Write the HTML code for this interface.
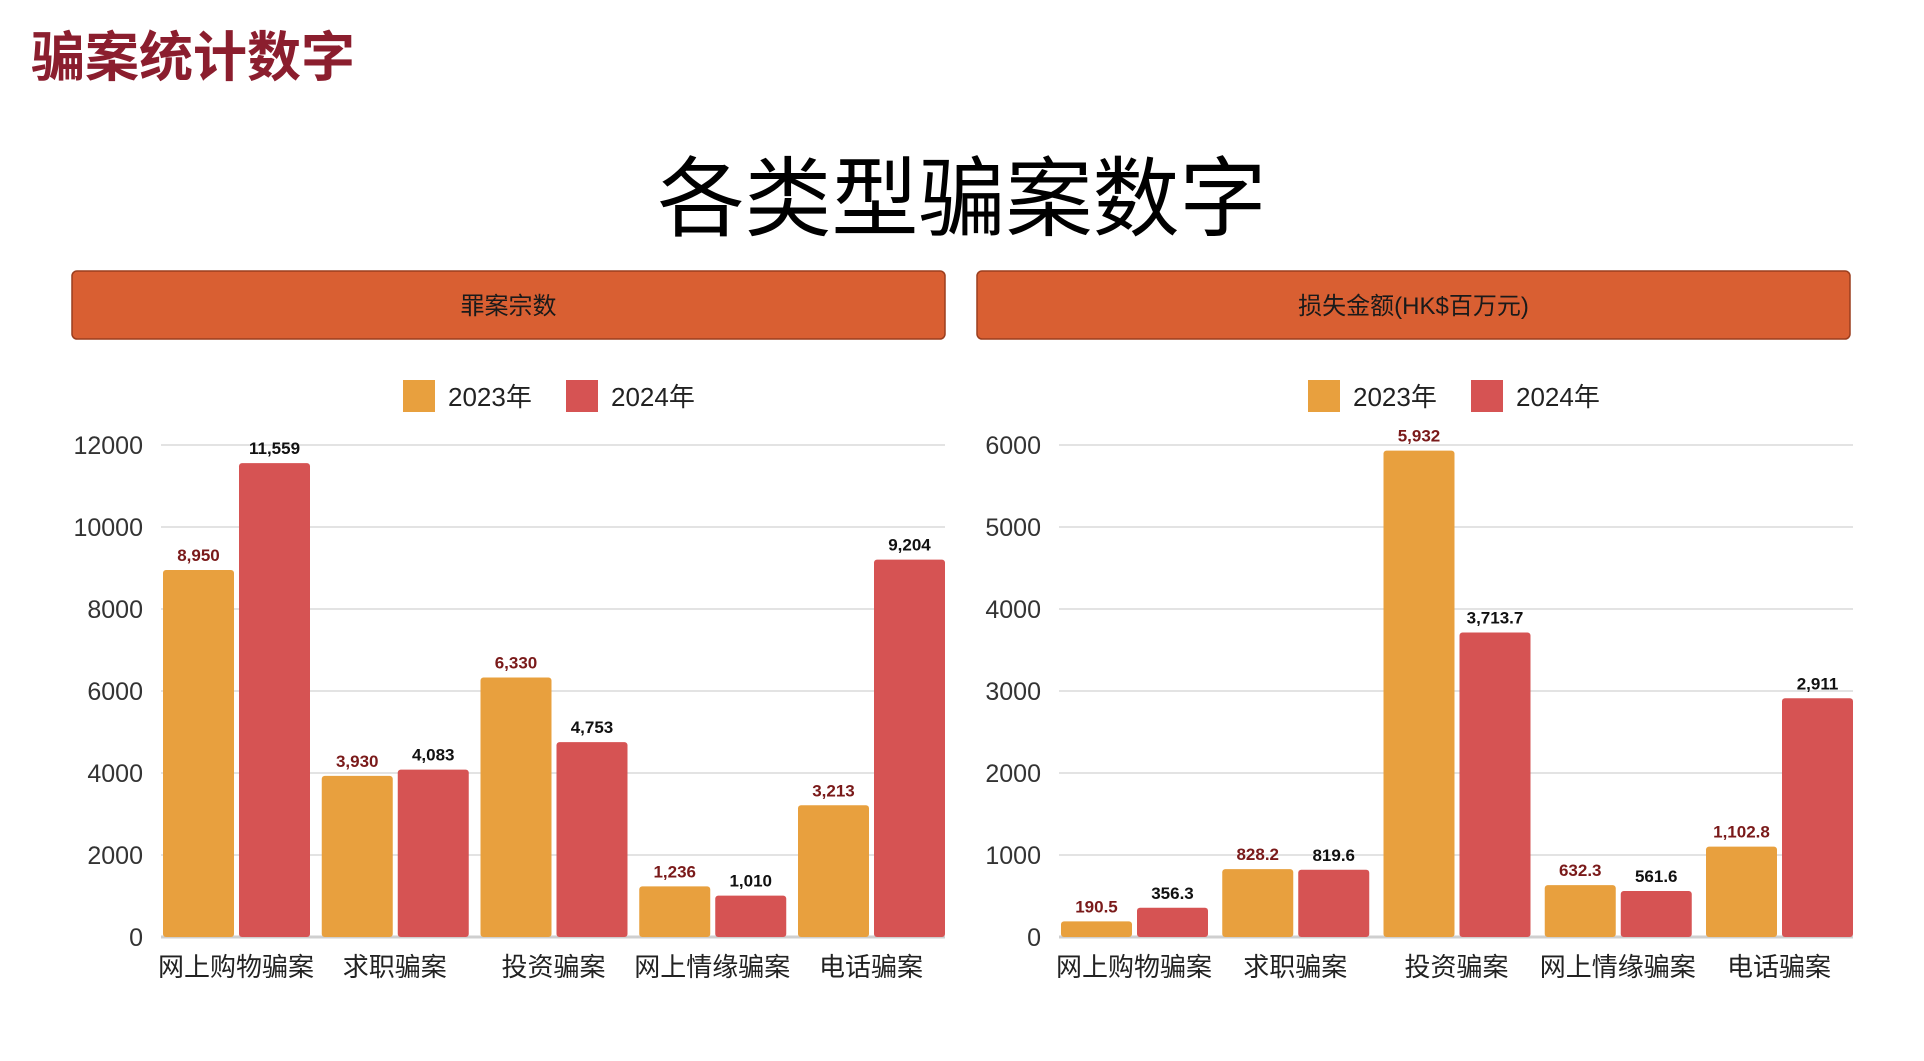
<!DOCTYPE html>
<html><head><meta charset="utf-8"><style>
body{margin:0;background:#fff;width:1924px;height:1056px;overflow:hidden;font-family:"Liberation Sans","Noto Sans CJK SC",sans-serif}
</style></head><body>
<svg width="1924" height="1056" xmlns="http://www.w3.org/2000/svg" id="svg" font-family="Liberation Sans, Noto Sans CJK SC, sans-serif">
<text x="31" y="76" font-size="54" font-weight="bold" fill="#8B1E2E">骗案统计数字</text>
<text x="962" y="229" font-size="87" text-anchor="middle" fill="#000">各类型骗案数字</text>
</svg>
<script>
const categories=["网上购物骗案","求职骗案","投资骗案","网上情缘骗案","电话骗案"];
const casesValues2023=[8950,3930,6330,1236,3213];
const casesValues2024=[11559,4083,4753,1010,9204];
const casesLabels2023=["8,950","3,930","6,330","1,236","3,213"];
const casesLabels2024=["11,559","4,083","4,753","1,010","9,204"];
const casesTicks=[0,2000,4000,6000,8000,10000,12000];
const lossValues2023=[190.5,828.2,5932,632.3,1102.8];
const lossValues2024=[356.3,819.6,3713.7,561.6,2911];
const lossLabels2023=["190.5","828.2","5,932","632.3","1,102.8"];
const lossLabels2024=["356.3","819.6","3,713.7","561.6","2,911"];
const lossTicks=[0,1000,2000,3000,4000,5000,6000];
const seriesNames=["2023年","2024年"];
const svg=document.getElementById('svg');const NS="http://www.w3.org/2000/svg";
function mk(t,a,txt){const e=document.createElementNS(NS,t);for(const k in a)e.setAttribute(k,a[k]);if(txt!==undefined)e.textContent=txt;svg.appendChild(e);return e;}
function chart(p,ox,pw,hx,title,ticks,v1,v2,l1,l2){
 const hw=873;
 let h=mk('rect',{x:hx,y:271,width:hw,height:68,rx:5,fill:'#D95F32',stroke:'#9b3e1e','stroke-width':1.5});
 
 
 let ht=mk('text',{x:hx+hw/2,y:314,'font-size':24,'text-anchor':'middle',fill:'#1a1a1a'},title);
 
 
 const lx=hx+331;
 [['#E8A03E',0],['#D65353',1]].forEach(([c,i])=>{
  let r=mk('rect',{x:lx+i*163,y:380,width:32,height:32,fill:c});
  
  
  let t=mk('text',{x:lx+i*163+45,y:406,'font-size':26,fill:'#222'},seriesNames[i]);
  
  
 });
 const x0=ox,x1=ox+pw,yb=937,yt=445,max=ticks[ticks.length-1];
 const y=v=>yb-(v/max)*(yb-yt);
 ticks.forEach(t=>{
  let g=mk('line',{x1:x0,x2:x1,y1:y(t),y2:y(t),stroke:t?'#e3e3e3':'#cfcfcf','stroke-width':t?2:3});
  
  
  let tl=mk('text',{x:x0-18,y:y(t)+9,'font-size':25,'text-anchor':'end',fill:'#333'},String(t));
  
  
 });
 const bw=71,gw=(x1-x0-2)/categories.length;
 categories.forEach((c,i)=>{
  const gx=x0+2+i*gw+(i/(categories.length-1))*(gw-(2*bw+5));
  [[v1[i],l1[i],'#E8A03E','#7a1a1a',0],[v2[i],l2[i],'#D65353','#111',1]].forEach(([v,l,col,tc,s])=>{
   const bx=gx+s*(bw+5);
   let b=mk('rect',{x:bx,y:y(v),width:bw,height:yb-y(v),rx:3,fill:col});
   
   
   let vl=mk('text',{x:bx+bw/2,y:y(v)-9,'font-size':17,'font-weight':'bold','text-anchor':'middle',fill:tc},l);
   
   
  });
  let cl=mk('text',{x:gx+bw+2,y:976,'font-size':26,'text-anchor':'middle',fill:'#222'},c);
  
  
 });
}
chart('cases-chart',161,784,72,'罪案宗数',casesTicks,casesValues2023,casesValues2024,casesLabels2023,casesLabels2024);
chart('loss-chart',1059,794,977,'损失金额(HK$百万元)',lossTicks,lossValues2023,lossValues2024,lossLabels2023,lossLabels2024);
</script>
</body></html>
